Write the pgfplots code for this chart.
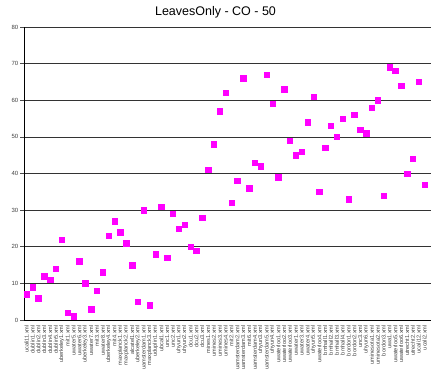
\documentclass[border=0pt]{standalone}
\usepackage{fontspec}
\setmainfont{Liberation Sans}
\usepackage{pgfplots}
\pgfplotsset{compat=1.18}
\usetikzlibrary{calc}
\definecolor{mag}{RGB}{255,0,255}
\begin{document}
\begin{tikzpicture}
\begin{axis}[
  scale only axis, width=407pt, height=293pt,
  xmin=-0.46, xmax=69.1, ymin=0, ymax=80,
  axis x line*=bottom, axis y line*=left,
  axis line style={black, line width=0.9pt},
  ytick={0,10,...,80},
  ymajorgrids, grid style={black!80, line width=0.6pt},
  tick align=outside, major tick length=4pt,
  y tick style={black!70, line width=0.5pt},
  x tick style={draw=none},
  /pgf/number format/assume math mode=true,
  yticklabel style={font=\fontsize{6}{7}\selectfont, text=black!75, inner sep=1.5pt},
  xtick={0,...,68},
  xticklabels={ucali11.xml,dublin1.xml,dublin2.xml,dublin3.xml,dublin4.xml,dublin5.xml,uberkeley1.xml,mit1.xml,uwater5.xml,uwater6.xml,uberkeley3.xml,uwater7.xml,mit3.xml,uwater8.xml,uberkeley4.xml,mit4.xml,maxplanck1.xml,maxplanck2.xml,alcatel1.xml,uberkeley2.xml,uamsterdam1.xml,maxplanck3.xml,uduplin1.xml,ubcal1.xml,unc1.xml,unc2.xml,uhyun1.xml,uhyun2.xml,dcu1.xml,dcu2.xml,dcu3.xml,mines1.xml,umines2.xml,umines3.xml,umines4.xml,mit2.xml,uamsterdam2.xml,uamsterdam3.xml,mit6.xml,uamsterdam4.xml,uhyun3.xml,uamsterdam5.xml,uhyun4.xml,uwaterloo1.xml,uwaterloo2.xml,uwaterloo3.xml,uwater1.xml,uwater3.xml,uwater4.xml,uhyun5.xml,uwaterloo4.xml,bmhall1.xml,bmhall2.xml,bmhall3.xml,bmhall4.xml,bordon1.xml,bordon2.xml,unc3.xml,uhyun6.xml,uminesota1.xml,uminesota2.xml,bordon3.xml,uwa1.xml,uwaterloo5.xml,uwaterloo6.xml,utrecht1.xml,utrecht2.xml,ucali12.xml,ucali2.xml},
  xticklabel style={rotate=90, anchor=east, font=\fontsize{5.6}{6}\selectfont, text=black!75, inner sep=1pt},
]
\coordinate (bl) at (rel axis cs:0,0);
\coordinate (tr) at (rel axis cs:1,1);
\addplot[only marks, mark=square*, mark size=2.7pt, mark options={draw=mag, fill=mag}, color=mag]
table {
x y
0 7
1 9
2 6
3 12
4 11
5 14
6 22
7 2
8 1
9 16
10 10
11 3
12 8
13 13
14 23
15 27
16 24
17 21
18 15
19 5
20 30
21 4
22 18
23 31
24 17
25 29
26 25
27 26
28 20
29 19
30 28
31 41
32 48
33 57
34 62
35 32
36 38
37 66
38 36
39 43
40 42
41 67
42 59
43 39
44 63
45 49
46 45
47 46
48 54
49 61
50 35
51 47
52 53
53 50
54 55
55 33
56 56
57 52
58 51
59 58
60 60
61 34
62 69
63 68
64 64
65 40
66 44
67 65
68 37
};
\end{axis}
\node[font=\fontsize{12.5}{14}\selectfont] at ($(bl|-tr)+(191.5pt,15pt)$) {LeavesOnly - CO - 50};
\pgfresetboundingbox
\path[use as bounding box] ($(bl)+(-24pt,-69pt)$) rectangle ($(tr)+(0pt,27pt)$);
\end{tikzpicture}
\end{document}
